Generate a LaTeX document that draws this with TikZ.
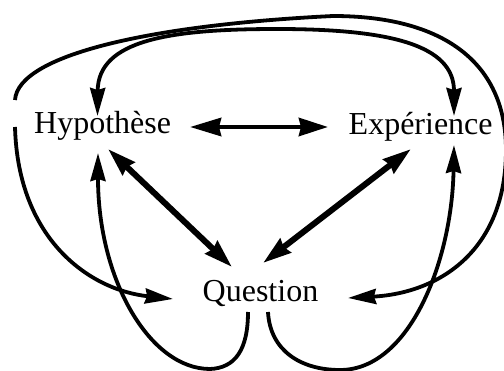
\documentclass[tikz,border=0pt]{standalone}
\usepackage{fontspec}
\setmainfont{Liberation Serif}
\usetikzlibrary{arrows.meta}
\begin{document}
\begin{tikzpicture}[x=1pt,y=-1pt,
  lbl/.style={inner sep=0pt, anchor=base west, font=\fontsize{32}{38}\selectfont},
  curv/.style={line width=3.8pt},
  onetip/.style={arrows={-Stealth[length=28pt,width=15pt,inset=2pt]}},
  twotip/.style={arrows={Stealth[length=28pt,width=15pt,inset=2pt]-Stealth[length=28pt,width=15pt,inset=2pt]}},
  horiz/.style={line width=4.5pt, arrows={Stealth[length=31pt,width=18pt,inset=2pt]-Stealth[length=29pt,width=18pt,inset=2pt]}},
  diag/.style={line width=6pt, arrows={Stealth[length=28pt,width=17pt,inset=2pt]-Stealth[length=28pt,width=17pt,inset=2pt]}}]
\useasboundingbox (0,0) rectangle (504,371);
% labels
\node[lbl] (hyp) at (34,134) {Hypothèse};
\node[lbl] (exp) at (348.5,135) {Expérience};
\node[lbl] (que) at (202.5,302) {Question};
% connector end points
\coordinate (hypE) at (190,127);
\coordinate (expW) at (328,127);
\coordinate (hypSE) at (108,149);
\coordinate (queNW) at (232,267);
\coordinate (expSW) at (411,149);
\coordinate (queNE) at (263,263);
\coordinate (hypT) at (97.5,116);
\coordinate (expT) at (454,116);
\coordinate (hypB) at (98,153);
\coordinate (expB) at (454,145);
\coordinate (queL) at (173,299);
\coordinate (queR) at (348,298);
\coordinate (queBL) at (248,312);
\coordinate (queBR) at (268,312);
\coordinate (hypWa) at (15,100);
\coordinate (hypWb) at (15,127);
% straight arrows
\draw[horiz] (hypE) -- (expW);
\draw[diag] (hypSE) -- (queNW);
\draw[diag] (expSW) -- (queNE);
% inner top arc
\draw[curv,twotip] (hypT) .. controls (98,40) and (170,29) .. (277,29)
   .. controls (390,29) and (454,45) .. (expT);
% outer loop
\draw[curv,onetip] (hypWa) .. controls (18,55) and (150,25) .. (333,16)
   .. controls (440,16) and (506,60) .. (506,150)
   .. controls (506,250) and (440,293) .. (queR);
% left arc to Question
\draw[curv,onetip] (hypWb) .. controls (18,240) and (90,290) .. (queL);
% bottom loops
\draw[curv,onetip] (queBL) .. controls (248,350) and (235,368) .. (210,369)
   .. controls (150,369) and (98,280) .. (hypB);
\draw[curv,onetip] (queBR) .. controls (270,350) and (300,370) .. (340,370)
   .. controls (410,370) and (452,260) .. (expB);
\end{tikzpicture}
\end{document}
